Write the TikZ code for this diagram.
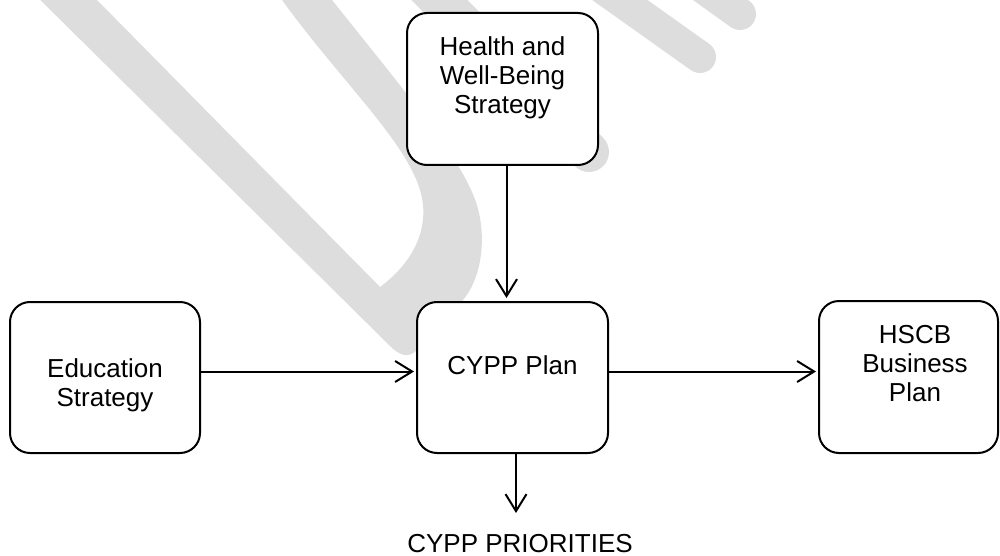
\documentclass[tikz,border=0pt]{standalone}
\usepackage{fontspec}
\setmainfont{Liberation Sans}
\usetikzlibrary{arrows.meta,calc}
\definecolor{wm}{RGB}{221,221,221}
\begin{document}
\begin{tikzpicture}[x=1pt,y=-1pt,
  box/.style={draw=black, line width=2pt, rounded corners=20pt, fill=white, inner sep=0pt},
  lbl/.style={font=\fontsize{26}{29}\selectfont, align=center, inner sep=0pt},
  conn/.style={line width=2pt, -{Straight Barb[length=17pt,width=21pt]}},
  wmband/.style={draw=wm, line cap=round}]
\useasboundingbox (0,0) rectangle (1000,556);
% watermark
\begin{scope}
\clip (0,0) rectangle (1000,556);
\fill[wm] (10,-30) -- (390,346)
  .. controls (400,356) and (408,358) .. (416,351)
  -- (463,300)
  .. controls (480,280) and (486,245) .. (479,213)
  .. controls (470,170) and (420,110) .. (332,0)
  -- (305,-35) -- (255,-35) -- (282,0)
  .. controls (340,80) and (405,140) .. (420,190)
  .. controls (432,230) and (410,265) .. (380,287)
  -- (97,0) -- (62,-35) -- cycle;
\draw[wmband, line width=40pt] (405,-35) -- (589,152);
\draw[wmband, line width=32pt] (579,-29) -- (700,57);
\draw[wmband, line width=32pt] (691,-21) -- (740,14);
\end{scope}
% boxes
\node[box, minimum width=191pt, minimum height=152pt] (hws) at (502.5,89) {};
\node[lbl, anchor=north] (hwst) at (502.5,36.5) {Health and\\Well-Being\\Strategy};
\node[box, minimum width=190pt, minimum height=151pt] (edu) at (105,377.5) {};
\node[lbl, anchor=north] (edut) at (105,358.5) {Education\\Strategy};
\node[box, minimum width=191pt, minimum height=151pt] (cypp) at (512.5,377.5) {};
\node[lbl, anchor=base] (cyppt) at (512.5,374) {CYPP Plan};
\node[box, minimum width=179pt, minimum height=152pt] (hscb) at (908.5,377) {};
\node[lbl, anchor=north] (hscbt) at (915,325.5) {HSCB\\Business\\Plan};
\coordinate (prend) at (516,513);
\node[lbl, anchor=base] (prio) at (520,552) {CYPP PRIORITIES};
% connectors
\draw[conn, shorten >=3pt] ([xshift=4pt]hws.south) -- ([xshift=4pt]hws.south |- cypp.north);
\draw[conn, shorten >=2pt] ([yshift=6pt]edu.east) -- ([yshift=6pt]edu.east -| cypp.west);
\draw[conn, shorten >=2pt] ([yshift=6pt]cypp.east) -- ([yshift=6pt]cypp.east -| hscb.west);
\draw[conn] ([xshift=3.5pt]cypp.south) -- (prend);
\end{tikzpicture}
\end{document}
